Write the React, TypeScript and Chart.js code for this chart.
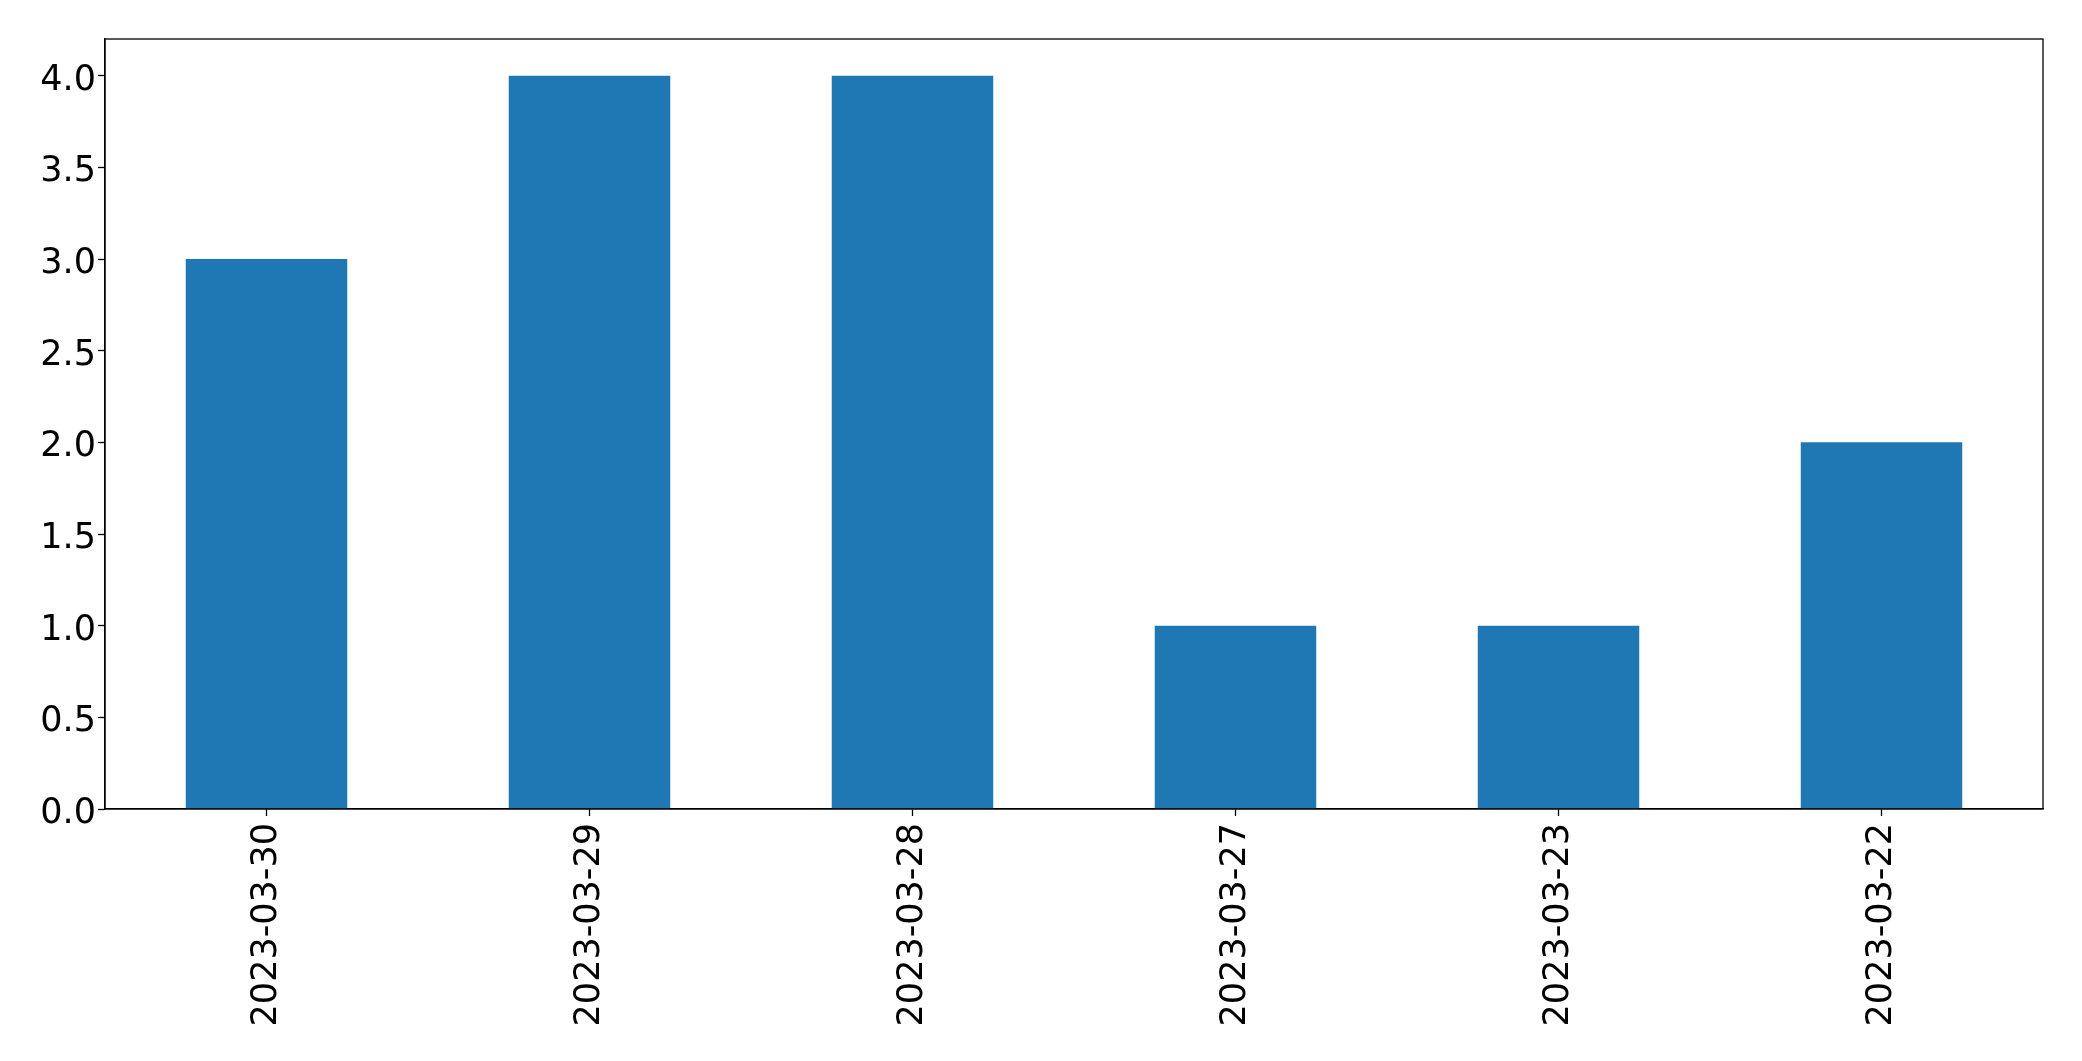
import React, { useEffect, useRef } from "react";
import { Chart, registerables } from "chart.js";

Chart.register(...registerables);

const categories = ["2023-03-30", "2023-03-29", "2023-03-28", "2023-03-27", "2023-03-23", "2023-03-22"];
const counts = [3, 4, 4, 1, 1, 2];
const yTicks = [0, 0.5, 1, 1.5, 2, 2.5, 3, 3.5, 4];
const yMin = 0;
const yMax = 4.2;

const W = 2082;
const H = 1061;

const framePlugin = {
  id: "frame",
  afterDraw(chart: any) {
    const { ctx, chartArea } = chart;
    ctx.save();
    ctx.strokeStyle = "#000";
    ctx.lineWidth = 1.3;
    ctx.strokeRect(chartArea.left, chartArea.top, chartArea.right - chartArea.left, chartArea.bottom - chartArea.top);
    ctx.restore();
  },
};

export default function App() {
  const ref = useRef<HTMLCanvasElement | null>(null);
  useEffect(() => {
    document.body.style.margin = "0";
    const font = { family: "'DejaVu Sans'", size: 35 };
    const chart = new Chart(ref.current as HTMLCanvasElement, {
      type: "bar",
      data: {
        labels: categories,
        datasets: [
          {
            data: counts,
            backgroundColor: "#1f77b4",
            borderWidth: 0,
            barPercentage: 0.5,
            categoryPercentage: 1,
          },
        ],
      },
      options: {
        responsive: false,
        animation: false,
        devicePixelRatio: 1,
        layout: { padding: { top: 39, right: 39, left: 0, bottom: 0 } },
        plugins: { legend: { display: false }, tooltip: { enabled: false } },
        scales: {
          x: {
            offset: true,
            grid: { display: true, drawOnChartArea: false, offset: false, tickLength: 7, tickColor: "#000", tickWidth: 1.3 },
            border: { display: true, color: "#000", width: 1.3 },
            ticks: { color: "#000", font, minRotation: 90, maxRotation: 90, padding: 7, autoSkip: false },
            afterFit(scale: any) {
              scale.height = H - 809;
            },
          },
          y: {
            min: yMin,
            max: yMax,
            grid: { display: true, drawOnChartArea: false, tickLength: 7, tickColor: "#000", tickWidth: 1.3 },
            border: { display: true, color: "#000", width: 1.3 },
            ticks: {
              color: "#000",
              font,
              padding: 2,
              labelOffset: 5,
              callback: (v: any) => Number(v).toFixed(1),
            },
            afterBuildTicks(scale: any) {
              scale.ticks = yTicks.map((v) => ({ value: v }));
            },
            afterFit(scale: any) {
              scale.width = 105;
            },
          },
        },
      },
      plugins: [framePlugin],
    });
    return () => chart.destroy();
  }, []);
  return (
    <canvas
      ref={ref}
      width={W}
      height={H}
      style={{ position: "absolute", left: 0, top: 0, width: W, height: H, display: "block" }}
    />
  );
}
